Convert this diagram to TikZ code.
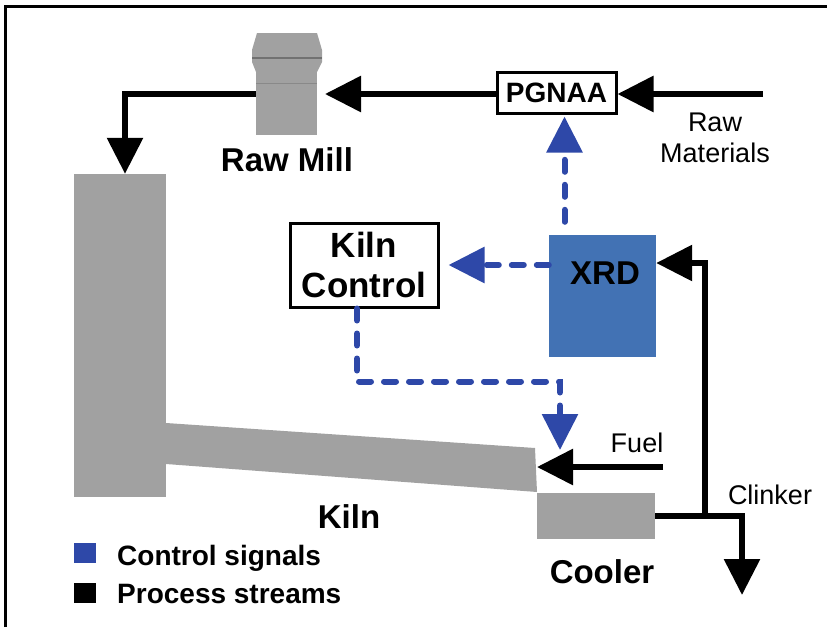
\documentclass[tikz,border=0pt]{standalone}
\usepackage{fontspec}
\setmainfont{Liberation Sans}
\usetikzlibrary{arrows.meta}
\definecolor{ctlblue}{RGB}{46,72,168}
\definecolor{xrdblue}{RGB}{66,114,180}
\definecolor{unitgray}{RGB}{161,161,161}

\begin{document}
\begin{tikzpicture}[x=1pt,y=-1pt, unit/.style={fill=unitgray,inner sep=0pt}, box/.style={draw,line width=3pt,fill=white,inner sep=0pt,align=center}, lab/.style={inner sep=0pt,font=\fontsize{33}{38}\selectfont\bfseries}, note/.style={inner sep=0pt,align=center,font=\fontsize{27}{31}\selectfont}, key/.style={inner sep=0pt,minimum width=22pt,minimum height=20pt}, keytext/.style={anchor=base west,inner sep=0pt,font=\fontsize{28}{30}\selectfont\bfseries}, arr/.style={-{Triangle[length=36pt,width=35pt]},line width=6pt}, ctl/.style={-{Triangle[length=36pt,width=35pt]},line width=6pt,color=ctlblue,dash pattern=on 12pt off 13pt,line cap=round}]
\useasboundingbox (0,0) rectangle (827,627);
\draw[line width=3pt] (5.5,627) -- (5.5,6.5) -- (827,6.5);
\node[unit,minimum width=92pt,minimum height=323pt] (tower) at (120,335.5) {};
\fill[unitgray] (166,423) -- (535,448) -- (537,492) -- (166,464) -- cycle;
\node[unit,minimum width=61pt,minimum height=77pt] (mill) at (286.5,96.5) {};
\fill[unitgray] (257,33) -- (317,33) -- (322,50) -- (322,62) -- (317,72) -- (256,72) -- (252,62) -- (252,50) -- cycle;
\draw[unitgray!70!black,line width=1.5pt] (252,58) -- (322,58);
\draw[unitgray!85!black,line width=1pt] (256,83) -- (317,83);
\node[unit,minimum width=118pt,minimum height=46pt] (cooler) at (596,516) {};
\node[fill=xrdblue,inner sep=0pt,minimum width=107pt,minimum height=122pt] (xrd) at (602.5,296) {};
\node[lab] (xrdtext) at (605,273) {XRD};
\node[box,minimum width=119pt,minimum height=41pt,font=\fontsize{28}{30}\selectfont\bfseries] (pgnaa) at (556.5,92.5) {PGNAA};
\node[box,minimum width=148pt,minimum height=84pt,font=\fontsize{35}{40}\selectfont\bfseries] (kc) at (364,265) {Kiln\\Control};
\node[lab] (milllab) at (287,160) {Raw Mill};
\node[lab] (kilnlab) at (349,517) {Kiln};
\node[lab] (coollab) at (602,572) {Cooler};
\node[note] (rawlab) at (715,137.5) {Raw\\Materials};
\node[note] (fuellab) at (637,443) {Fuel};
\node[note] (clinklab) at (770,495) {Clinker};
\coordinate (rawin) at (763,94);
\coordinate (millin) at (325,94);
\coordinate (fuelin) at (663,467);
\coordinate (kilnend) at (537,467);
\coordinate (ctlin) at (560,450);
\coordinate (junc) at (705,516);
\coordinate (clinkout) at (742,595);
\draw[arr] (rawin) -- (pgnaa.east |- rawin); \draw[arr] (pgnaa.west |- rawin) -- (millin); \draw[arr] (mill.west |- rawin) -| ([xshift=5pt]tower.north);
\draw[arr] (fuelin) -- (kilnend); \draw[arr] (cooler.east) -| (clinkout); \draw[arr] (junc) |- ([yshift=33pt]xrd.east);
\draw[ctl,shorten <=13pt,shorten >=2pt] ([xshift=-38pt]xrd.north) -- ([xshift=-38pt]xrd.north |- pgnaa.south);
\draw[ctl,shorten >=9pt] (xrd.west |- kc.east) -- (kc.east);
\draw[ctl] ([xshift=-7pt]kc.south) -- ++(0,73) -| (ctlin);
\node[key,fill=ctlblue] (keyctl) at (85,553) {};
\node[key,fill=black] (keyproc) at (85,593) {};
\node[keytext] (keyctltext) at (117,565) {Control signals};
\node[keytext] (keyproctext) at (117,603) {Process streams};
\end{tikzpicture}
\end{document}
